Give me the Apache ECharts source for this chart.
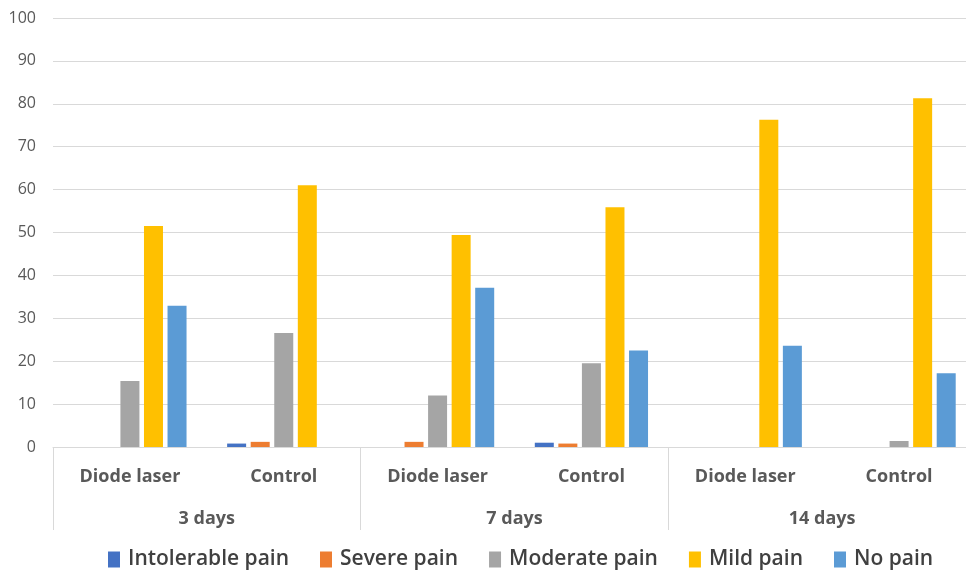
<!DOCTYPE html>
<html>
<head>
<meta charset="utf-8">
<script src="https://cdn.jsdelivr.net/npm/echarts@6/dist/echarts.min.js"></script>
<style>html,body{margin:0;padding:0;background:#fff;}#c{width:966px;height:572px;}</style>
</head>
<body>
<div id="c"></div>
<script>
var subCategories = ['Diode laser', 'Control', 'Diode laser', 'Control', 'Diode laser', 'Control'];
var groups = ['3 days', '7 days', '14 days'];
var seriesNames = ['Intolerable pain', 'Severe pain', 'Moderate pain', 'Mild pain', 'No pain'];
var intolerable = [0, 0.8, 0, 1.0, 0, 0];
var severe = [0, 1.2, 1.2, 0.8, 0, 0];
var moderate = [15.4, 26.6, 12.0, 19.5, 0, 1.4];
var mild = [51.5, 61.0, 49.4, 55.9, 76.3, 81.3];
var noPain = [32.9, 0, 37.1, 22.5, 23.6, 17.2];
var colors = ['#4472C4', '#ED7D31', '#A5A5A5', '#FFC000', '#5B9BD5'];
var values = [intolerable, severe, moderate, mild, noPain];

var chart = echarts.init(document.getElementById('c'));
var font = 'Open Sans, Liberation Sans, sans-serif';
chart.setOption({
  animation: false,
  color: colors,
  grid: {left: 53, width: 923, top: 18, bottom: 125, outerBoundsMode: 'none', containLabel: false},
  legend: {
    data: seriesNames,
    top: 544,
    left: 103,
    icon: 'rect',
    itemWidth: 12,
    itemHeight: 16,
    itemGap: 31,
    textStyle: {fontFamily: font, fontSize: 21, fontWeight: 600, color: '#404040', padding: [0, 0, 0, 3]}
  },
  xAxis: [
    {
      type: 'category',
      data: subCategories,
      position: 'bottom',
      axisLine: {show: true, lineStyle: {color: '#d9d9d9', width: 1}},
      axisTick: {show: false},
      axisLabel: {interval: 0, margin: 21, fontFamily: font, fontSize: 18, fontWeight: 'bold', color: '#595959'}
    },
    {
      type: 'category',
      data: groups,
      position: 'bottom',
      axisLine: {show: false},
      axisTick: {show: true, length: 83, interval: 0, lineStyle: {color: '#d9d9d9', width: 1}},
      axisLabel: {interval: 0, margin: 63, fontFamily: font, fontSize: 18, fontWeight: 'bold', color: '#595959'}
    }
  ],
  yAxis: {
    type: 'value',
    min: 0,
    max: 100,
    interval: 10,
    axisLine: {show: false},
    axisTick: {show: false},
    splitLine: {lineStyle: {color: '#d9d9d9', width: 1}},
    axisLabel: {margin: 17, fontFamily: font, fontSize: 16, color: '#595959'}
  },
  series: seriesNames.map(function (n, i) {
    return {
      name: n,
      type: 'bar',
      xAxisIndex: 0,
      data: values[i],
      barWidth: 19,
      barGap: '24%',
      itemStyle: {color: colors[i]}
    };
  })
});
</script>
</body>
</html>
